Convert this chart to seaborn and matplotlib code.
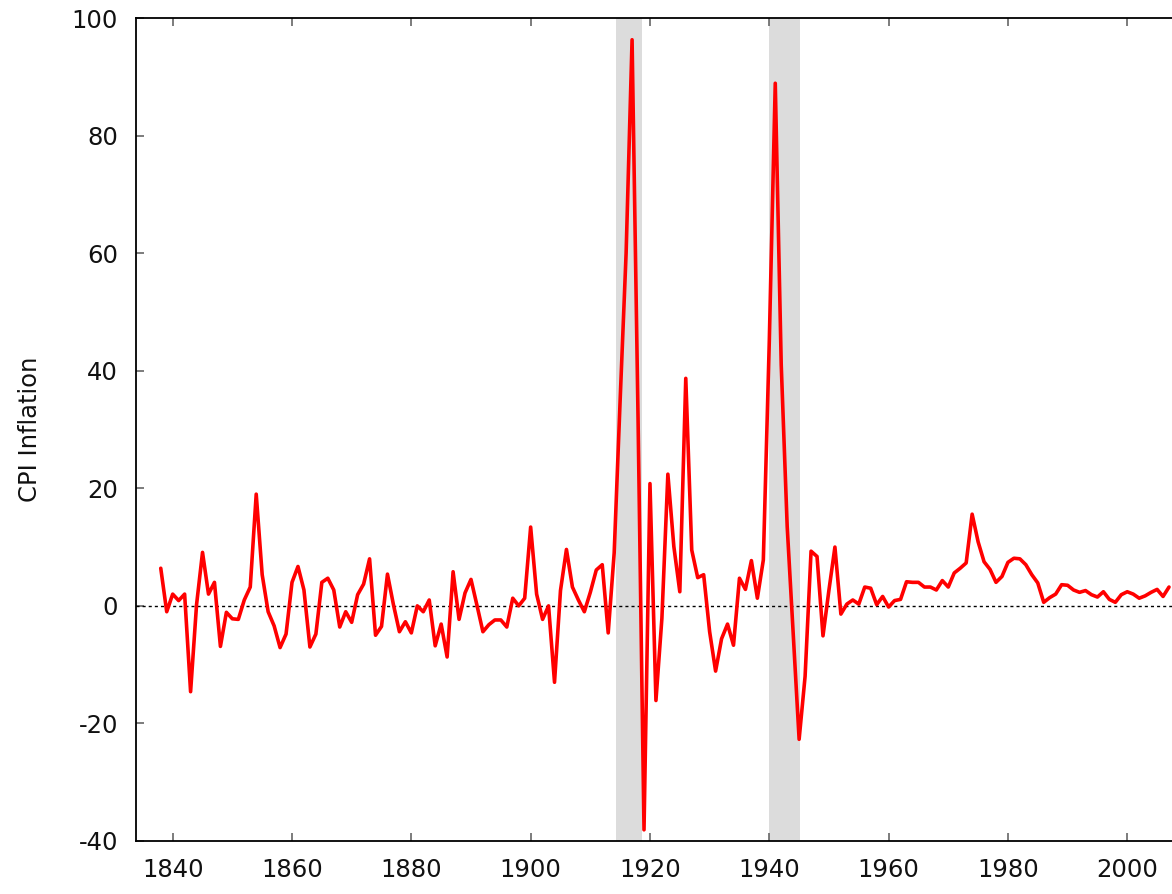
import matplotlib
matplotlib.use('Agg')
import matplotlib.pyplot as plt
import seaborn as sns
import numpy as np
import pandas as pd

# Annual CPI inflation (%), 1838-2007
years = list(range(1838, 2008))
cpi_1838_1869 = [6.4, -1.0,
                 2.0, 0.9, 2.0, -14.6, 0.2, 9.1, 2.0, 4.0, -6.9, -1.1,
                 -2.2, -2.3, 1.0, 3.2, 19.0, 5.3, -1.0, -3.4, -7.1, -4.8,
                 4.0, 6.7, 2.7, -7.0, -4.8, 4.0, 4.7, 2.7, -3.6, -1.0]
cpi_1870_1899 = [-2.8, 1.9, 3.7, 8.0, -5.0, -3.5, 5.4, 0.2, -4.4, -2.7,
                 -4.6, 0.0, -1.0, 1.0, -6.8, -3.1, -8.7, 5.8, -2.3, 2.2,
                 4.5, 0.1, -4.4, -3.2, -2.4, -2.4, -3.6, 1.3, 0.0, 1.3]
cpi_1900_1949 = [13.4, 2.0, -2.3, 0.0, -13.0, 2.6, 9.6, 3.2, 1.0, -1.0,
                 2.3, 6.1, 7.0, -4.6, 9.0, 35.0, 60.0, 96.3, 32.0, -38.1,
                 20.8, -16.1, -2.1, 22.4, 10.1, 2.4, 38.7, 9.5, 4.8, 5.3,
                 -4.4, -11.1, -5.6, -3.1, -6.7, 4.7, 2.8, 7.7, 1.3, 7.8,
                 45.0, 88.9, 41.0, 13.5, -4.5, -22.7, -12.0, 9.3, 8.4, -5.1]
cpi_1950_2007 = [2.7, 10.0, -1.4, 0.3, 1.0, 0.3, 3.2, 3.0, 0.2, 1.6,
                 -0.2, 0.9, 1.1, 4.1, 4.0, 4.0, 3.2, 3.2, 2.7, 4.3,
                 3.2, 5.6, 6.4, 7.3, 15.6, 10.9, 7.5, 6.2, 4.0, 5.0,
                 7.4, 8.1, 8.0, 7.0, 5.3, 3.9, 0.6, 1.4, 2.0, 3.6,
                 3.5, 2.7, 2.3, 2.6, 1.9, 1.5, 2.4, 1.1, 0.6, 1.9,
                 2.4, 2.0, 1.3, 1.7, 2.3, 2.8, 1.6, 3.2]
cpi = cpi_1838_1869 + cpi_1870_1899 + cpi_1900_1949 + cpi_1950_2007

# war periods shaded in grey
war_start = [1914.3, 1940.0]
war_end = [1918.7, 1945.2]

x_ticks = [1840, 1860, 1880, 1900, 1920, 1940, 1960, 1980, 2000]
y_ticks = [-40, -20, 0, 20, 40, 60, 80, 100]

df = pd.DataFrame({'year': years, 'cpi': cpi})

sns.set_style('ticks')
plt.rcParams['font.family'] = ['DejaVu Sans']
plt.rcParams['axes.unicode_minus'] = False  # plain hyphen like the original

fig = plt.figure(figsize=(11.72, 8.94), dpi=100, facecolor='white')
ax = fig.add_axes([136 / 1172, 1 - 841 / 894, 1 - 136 / 1172, (841 - 18) / 894])
ax.set_facecolor('white')

for s, e in zip(war_start, war_end):
    ax.axvspan(s, e, color='#dcdcdc', lw=0, zorder=0)

ax.axhline(0, color='black', lw=1, linestyle=(0, (2.2, 2.2)), zorder=1)

sns.lineplot(data=df, x='year', y='cpi', color='#ff0000', lw=2.6, ax=ax, zorder=3)

ax.set_xlim(1833.85, 2007.5)
ax.set_ylim(-40, 100)
ax.set_xticks(x_ticks)
ax.set_yticks(y_ticks)
ax.set_xlabel('')
ax.set_ylabel('CPI Inflation', fontsize=17.5, labelpad=21, color='#111111')

ax.tick_params(axis='x', direction='in', top=True, bottom=True, length=6, width=1.2,
               color='#666666', labelsize=17.5, labelcolor='#111111', pad=12)
ax.tick_params(axis='y', direction='in', left=True, right=False, length=6, width=1.2,
               color='#666666', labelsize=17.5, labelcolor='#111111', pad=13)

for side in ['left', 'bottom', 'top']:
    ax.spines[side].set_linewidth(1.3)
    ax.spines[side].set_color('black')
ax.spines['right'].set_visible(False)

plt.savefig('out.png', dpi=100, facecolor='white')
